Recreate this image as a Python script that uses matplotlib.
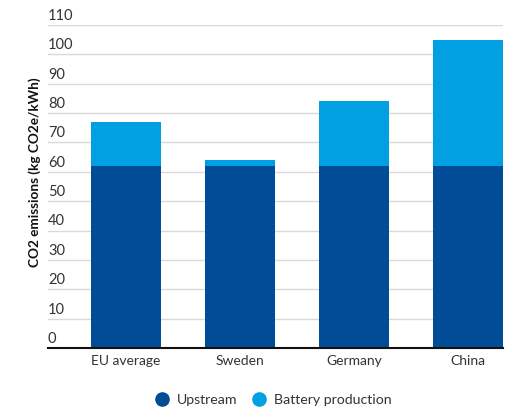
import numpy as np
import matplotlib
matplotlib.use('Agg')
import matplotlib.pyplot as plt
from matplotlib.lines import Line2D

plt.rcParams['font.family'] = ['Lato', 'DejaVu Sans']

categories = ['EU average', 'Sweden', 'Germany', 'China']
upstream = [62, 62, 62, 62]
battery = [15, 2, 22, 43]
yticks = [0, 10, 20, 30, 40, 50, 60, 70, 80, 90, 100, 110]

c_up = '#004c97'
c_bat = '#00a0e3'
txt = '#333333'

fig = plt.figure(figsize=(5.09, 4.09), dpi=100)
ax = fig.add_axes([0.0943, 0.149, 0.894, 0.790])

x = np.arange(len(categories))
ax.bar(x, upstream, width=0.617, color=c_up, zorder=3)
ax.bar(x, battery, width=0.617, bottom=upstream, color=c_bat, zorder=3)

ax.set_xlim(-0.685, 3.31)
ax.set_ylim(0, 110)
ax.set_yticks(yticks)
ax.set_yticklabels([])
ax.tick_params(axis='y', length=0)
ax.yaxis.grid(True, color='#d9d9d9', linewidth=1, zorder=0)
for v in yticks:
    ax.annotate(str(v), xy=(0, v), xycoords=('axes fraction', 'data'),
                xytext=(0, 1.5), textcoords='offset points',
                ha='left', va='bottom', fontsize=10.5, color=txt)

ax.set_xticks(x)
ax.set_xticklabels(categories, fontsize=10, color=txt)
ax.tick_params(axis='x', length=0, pad=5)

for s in ['top', 'right', 'left']:
    ax.spines[s].set_visible(False)
ax.spines['bottom'].set_linewidth(1.5)
ax.spines['bottom'].set_color('#111111')
ax.spines['bottom'].set_zorder(4)

fig.text(0.069, 0.579, 'CO2 emissions (kg CO2e/kWh)', rotation=90,
         ha='center', va='center', fontsize=9.8, fontweight='bold', color='#111111')

handles = [Line2D([], [], marker='o', linestyle='', markersize=9.5, color=c_up),
           Line2D([], [], marker='o', linestyle='', markersize=9.5, color=c_bat)]
fig.legend(handles, ['Upstream', 'Battery production'], loc='center',
           bbox_to_anchor=(0.53, 0.021), ncol=2, frameon=False, fontsize=10.2,
           handletextpad=0.1, columnspacing=0.5, labelcolor=txt)

fig.savefig('out.png', dpi=100)
